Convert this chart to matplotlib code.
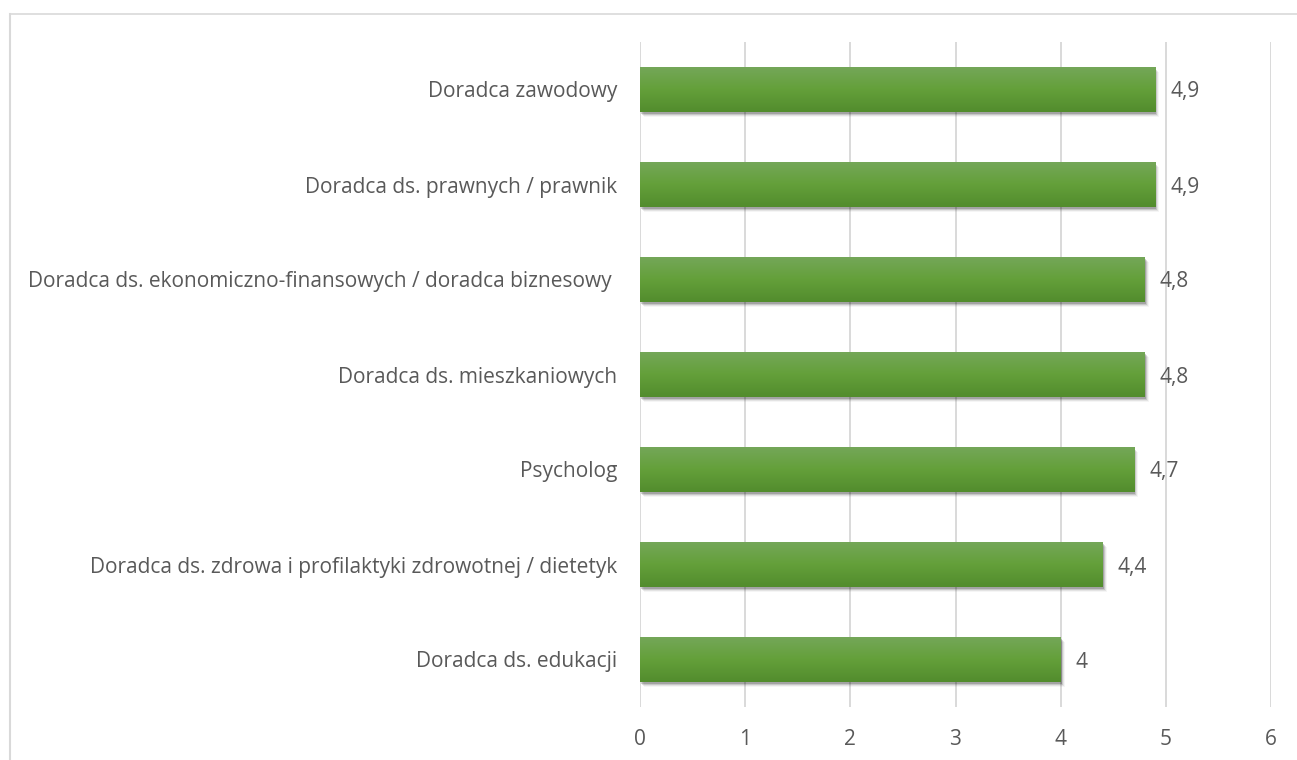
import numpy as np
import matplotlib.pyplot as plt
from matplotlib.patches import Rectangle
from matplotlib.lines import Line2D
from matplotlib.colors import LinearSegmentedColormap
from matplotlib.transforms import ScaledTranslation

# data (top to bottom as in the chart)
categories = [
    "Doradca zawodowy",
    "Doradca ds. prawnych / prawnik",
    "Doradca ds. ekonomiczno-finansowych / doradca biznesowy ",
    "Doradca ds. mieszkaniowych",
    "Psycholog",
    "Doradca ds. zdrowa i profilaktyki zdrowotnej / dietetyk",
    "Doradca ds. edukacji",
]
values = [4.9, 4.9, 4.8, 4.8, 4.7, 4.4, 4.0]
x_ticks = [0, 1, 2, 3, 4, 5, 6]

text_color = "#595959"
grid_color = "#d9d9d9"
plt.rcParams["font.family"] = ["Open Sans", "DejaVu Sans"]
plt.rcParams["font.size"] = 15

W, H, DPI = 1297, 760, 100
fig = plt.figure(figsize=(W / DPI, H / DPI), dpi=DPI)
ax = fig.add_axes([640 / W, 1 - 707 / H, (1271 - 640) / W, (707 - 42) / H])

n = len(categories)
ypos = np.arange(n)[::-1]
bar_h = 0.48

# bars (flat colour underneath, gradient clipped on top)
bars = ax.barh(ypos, values, height=bar_h, color="#62992f", zorder=3)

# soft drop shadow
for dx, dy, a in [(1, -2, 0.18), (2, -3, 0.12), (3, -4, 0.07), (4, -5, 0.04)]:
    off = ScaledTranslation(dx / DPI, dy / DPI, fig.dpi_scale_trans)
    for b in bars:
        r = Rectangle(b.get_xy(), b.get_width(), b.get_height(),
                      facecolor="black", alpha=a, edgecolor="none",
                      transform=ax.transData + off, zorder=2)
        ax.add_patch(r)

cmap = LinearSegmentedColormap.from_list("g", ["#528c2d", "#64a03a", "#75a75a"])
grad = np.linspace(0, 1, 256).reshape(-1, 1)
for b in bars:
    x0, y0 = b.get_xy()
    im = ax.imshow(grad, cmap=cmap, origin="lower", aspect="auto",
                   extent=[x0, x0 + b.get_width(), y0, y0 + b.get_height()],
                   zorder=4)
    im.set_clip_path(b)

# value labels
for y, v in zip(ypos, values):
    ax.annotate(f"{v:g}".replace(".", ","), (v, y), xytext=(15, 0),
                textcoords="offset pixels", ha="left", va="center_baseline",
                color=text_color, zorder=5)

ax.set_xlim(0, 6)
ax.set_ylim(-0.5, n - 0.5)
ax.set_xticks(x_ticks)
ax.set_xticklabels([str(t) for t in x_ticks])
ax.set_yticks(ypos)
ax.set_yticklabels(categories, va="center_baseline")
ax.tick_params(axis="both", length=0, colors=text_color)
ax.tick_params(axis="y", pad=16.5)
ax.tick_params(axis="x", pad=16)
for s in ax.spines.values():
    s.set_visible(False)
ax.grid(axis="x", color=grid_color, linewidth=1.4)
ax.grid(axis="y", visible=False)
ax.set_axisbelow(True)

# chart frame (only top and left edges are in view)
fx = 9.5 / W
fy = 1 - 13.5 / H
fig.add_artist(Line2D([fx, fx], [0, fy], transform=fig.transFigure,
                      color=grid_color, linewidth=1.5))
fig.add_artist(Line2D([fx, 1], [fy, fy], transform=fig.transFigure,
                      color=grid_color, linewidth=1.2))

fig.savefig("out.png", dpi=DPI)
